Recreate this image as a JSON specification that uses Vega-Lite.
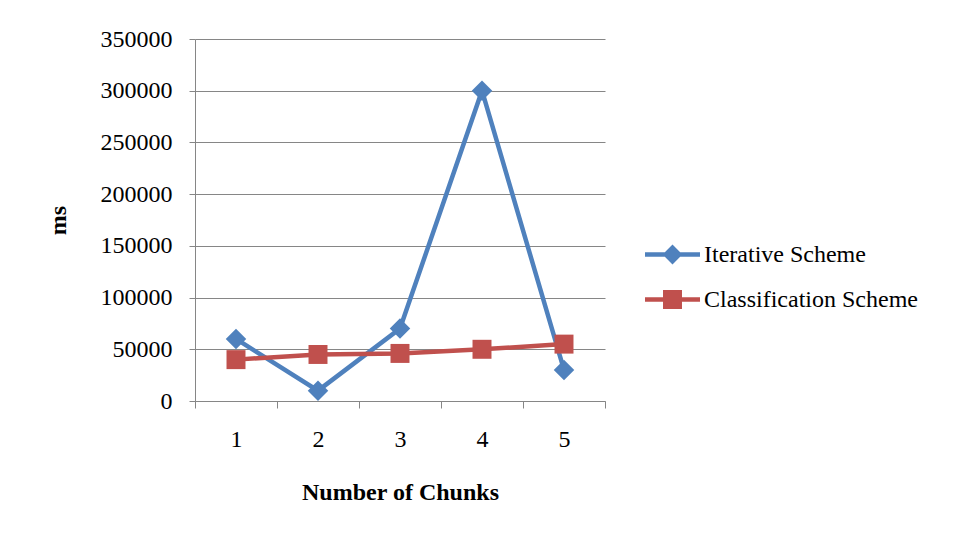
{
  "$schema": "https://vega.github.io/schema/vega-lite/v6.json",
  "autosize": {"type": "none"},
  "width": 410,
  "height": 362,
  "padding": {"left": 195, "top": 39, "right": 351, "bottom": 135},
  "background": "white",
  "config": {
    "font": "Liberation Serif, Times New Roman, serif",
    "view": {"stroke": null},
    "axis": {
      "labelFont": "Liberation Serif, Times New Roman, serif",
      "labelFontSize": 24,
      "labelColor": "black",
      "titleFont": "Liberation Serif, Times New Roman, serif",
      "titleFontSize": 24,
      "titleFontWeight": "bold",
      "titleColor": "black",
      "domainColor": "#868686",
      "tickColor": "#868686",
      "gridColor": "#868686",
      "domainWidth": 1,
      "tickWidth": 1,
      "gridWidth": 1
    }
  },
  "data": {
    "values": [
      {"chunks": "1", "series": "Iterative Scheme", "ms": 60000},
      {"chunks": "2", "series": "Iterative Scheme", "ms": 10000},
      {"chunks": "3", "series": "Iterative Scheme", "ms": 70000},
      {"chunks": "4", "series": "Iterative Scheme", "ms": 300000},
      {"chunks": "5", "series": "Iterative Scheme", "ms": 30000},
      {"chunks": "1", "series": "Classification Scheme", "ms": 40000},
      {"chunks": "2", "series": "Classification Scheme", "ms": 45000},
      {"chunks": "3", "series": "Classification Scheme", "ms": 46000},
      {"chunks": "4", "series": "Classification Scheme", "ms": 50000},
      {"chunks": "5", "series": "Classification Scheme", "ms": 55000}
    ]
  },
  "encoding": {
    "x": {
      "field": "chunks",
      "type": "ordinal",
      "scale": {"type": "band", "paddingInner": 0, "paddingOuter": 0},
      "axis": {
        "title": "Number of Chunks",
        "labelAngle": 0,
        "tickBand": "extent",
        "tickSize": 7,
        "labelPadding": 19,
        "titlePadding": 29,
        "grid": false
      }
    },
    "y": {
      "field": "ms",
      "type": "quantitative",
      "scale": {"domain": [0, 350000], "nice": false},
      "axis": {
        "title": "ms",
        "values": [0, 50000, 100000, 150000, 200000, 250000, 300000, 350000],
        "format": "d",
        "tickSize": 6,
        "labelPadding": 17,
        "titlePadding": 30,
        "grid": true
      }
    },
    "color": {
      "field": "series",
      "type": "nominal",
      "scale": {
        "domain": ["Iterative Scheme", "Classification Scheme"],
        "range": ["#4F81BD", "#C0504D"]
      }
    }
  },
  "layer": [
    {
      "mark": {"type": "line", "strokeWidth": 4.5},
      "encoding": {
        "color": {
          "field": "series",
          "type": "nominal",
          "scale": {
            "domain": ["Iterative Scheme", "Classification Scheme"],
            "range": ["#4F81BD", "#C0504D"]
          },
          "legend": {
            "title": null,
            "orient": "none",
            "legendX": 450,
            "legendY": 188,
            "symbolSize": 3025,
            "symbolStrokeWidth": 0,
            "labelFont": "Liberation Serif, Times New Roman, serif",
            "labelFontSize": 24,
            "labelColor": "black",
            "labelLimit": 0,
            "labelOffset": 4,
            "rowPadding": 5,
            "encode": {
              "symbols": {
                "update": {
                  "shape": {"signal": "datum.value == 'Iterative Scheme' ? 'M-1,-0.08H1V0.08H-1Z M0,-0.36L0.36,0L0,0.36L-0.36,0Z' : 'M-1,-0.08H1V0.08H-1Z M-0.345,-0.345H0.345V0.345H-0.345Z'"},
                  "fill": {"signal": "datum.value == 'Iterative Scheme' ? '#4F81BD' : '#C0504D'"},
                  "fillOpacity": {"value": 1},
                  "strokeWidth": {"value": 0}
                }
              }
            }
          }
        }
      }
    },
    {
      "transform": [{"filter": "datum.series == 'Iterative Scheme'"}],
      "mark": {"type": "point", "shape": "diamond", "filled": true, "size": 420, "opacity": 1}
    },
    {
      "transform": [{"filter": "datum.series == 'Classification Scheme'"}],
      "mark": {"type": "point", "shape": "square", "filled": true, "size": 360, "opacity": 1}
    }
  ]
}
